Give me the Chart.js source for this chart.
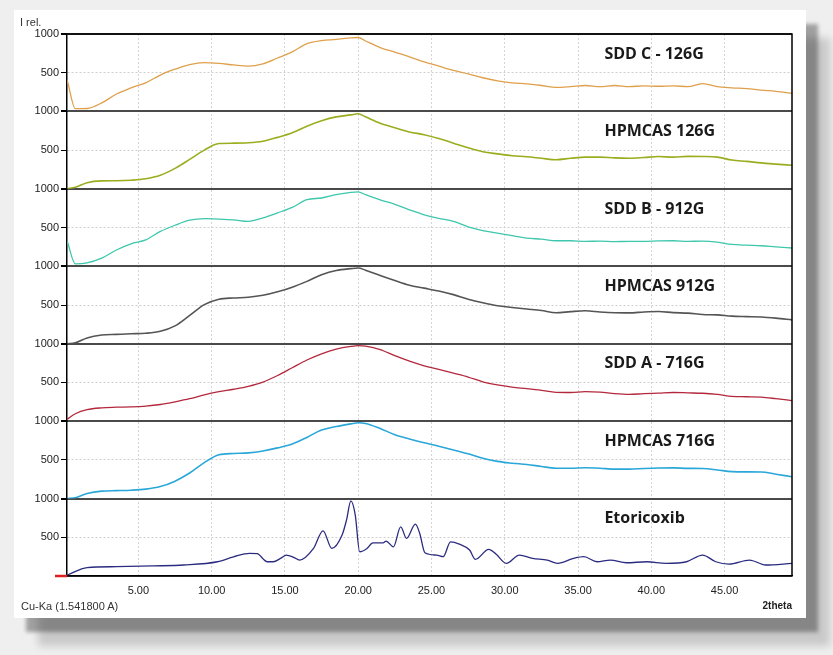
<!DOCTYPE html>
<html>
<head>
<meta charset="utf-8">
<script src="https://cdn.jsdelivr.net/npm/chart.js@4"></script>
<style>
  body { margin: 0; width: 833px; height: 655px; background: #efefef; overflow: hidden; font-family: 'Liberation Sans', Arial, sans-serif; }
  #card { position: absolute; left: 14px; top: 10px; width: 792px; height: 608px; background: #fff;
          box-shadow: 12px 14px 4px rgba(0,0,0,0.33), 24px 28px 8px rgba(0,0,0,0.16); }
  #card canvas { position: absolute; left: 0; top: 0; }
  .lbl { position: absolute; font-size: 11px; color: #333; white-space: nowrap; }
</style>
</head>
<body>
<div id="card">
  <canvas id="xrd" width="792" height="608"></canvas>
  <div class="lbl" style="left:6px; top:6px;">I rel.</div>
  <div class="lbl" style="left:7px; top:590px;">Cu-Ka (1.541800 A)</div>
</div>
<script>
// 2theta grid shared by the amorphous patterns
const angle = [0.15, 0.7, 1.5, 2.5, 3.5, 4.5, 5.5, 6.5, 7.5, 8.5, 9.5, 10.5, 11.5, 12.5, 13.5, 14.5, 15.5, 16.5, 17.5, 18.5,
  19.5, 20.0, 20.5, 21.5, 22.5, 23.5, 24.5, 25.5, 26.5, 27.5, 28.5, 29.5, 30.5, 31.5, 32.5, 33.5, 34.5, 35.5, 36.5, 37.5,
  38.5, 39.5, 40.5, 41.5, 42.5, 43.5, 44.5, 45.5, 46.5, 47.5, 48.5, 49.6];

const sddC126 = [400, 35, 38, 110, 225, 305, 370, 470, 545, 605, 630, 620, 600, 585, 615, 690, 770, 875, 915, 930,
  950, 955, 910, 825, 765, 705, 640, 585, 530, 485, 435, 395, 370, 355, 335, 310, 320, 335, 320, 335,
  320, 330, 325, 330, 320, 360, 320, 305, 295, 275, 260, 235];
const hpmcas126 = [0, 20, 80, 103, 105, 112, 130, 175, 265, 380, 500, 585, 590, 595, 615, 665, 725, 810, 880, 930,
  955, 970, 930, 848, 790, 735, 700, 650, 590, 530, 480, 452, 428, 415, 395, 376, 395, 410, 410, 400,
  396, 405, 417, 410, 420, 418, 410, 372, 355, 335, 320, 305];
const sddB912 = [320, 32, 45, 105, 210, 290, 340, 450, 530, 595, 615, 610, 600, 580, 625, 690, 760, 860, 882, 925,
  955, 962, 925, 858, 800, 730, 665, 620, 580, 510, 462, 428, 395, 365, 350, 330, 330, 322, 325, 318,
  322, 322, 328, 330, 322, 325, 312, 282, 272, 265, 250, 236];
const hpmcas912 = [0, 12, 75, 112, 120, 128, 135, 160, 230, 365, 505, 575, 591, 600, 625, 670, 730, 805, 890, 945,
  970, 978, 950, 880, 815, 755, 718, 680, 634, 575, 528, 490, 468, 448, 428, 400, 415, 425, 410, 400,
  398, 410, 416, 402, 395, 378, 372, 356, 350, 345, 330, 308];
const sddA716 = [25, 95, 148, 172, 180, 185, 195, 215, 250, 290, 340, 380, 412, 450, 505, 590, 690, 790, 870, 930,
  965, 975, 968, 925, 845, 775, 715, 668, 620, 570, 508, 468, 440, 420, 398, 372, 370, 380, 375, 355,
  345, 355, 362, 370, 365, 360, 345, 320, 315, 310, 290, 265];
const hpmcas716 = [0, 10, 65, 96, 102, 108, 122, 155, 225, 330, 465, 565, 582, 590, 615, 655, 705, 790, 885, 930,
  965, 980, 970, 905, 825, 770, 720, 675, 628, 578, 520, 480, 457, 440, 415, 392, 392, 398, 392, 380,
  380, 388, 394, 396, 390, 388, 370, 348, 345, 344, 315, 282];

// crystalline reference, own angle list (sharper peaks)
const etoAngle = [0.15, 1.5, 3.5, 6.0, 8.1, 10.4, 11.5, 12.6, 13.1, 13.8, 14.2, 14.7, 15.1, 15.6, 16.0, 16.95, 17.6, 18.2, 18.9, 19.2,
  19.5, 19.8, 20.1, 20.6, 21.0, 21.7, 21.9, 22.4, 22.9, 23.3, 23.9, 24.2, 24.55, 25.35, 25.8, 26.3, 26.9, 27.6, 28.0, 28.9,
  29.4, 30.1, 31.0, 31.9, 32.9, 33.6, 34.7, 35.4, 36.3, 37.2, 38.3, 39.7, 41.0, 42.4, 43.5, 44.4, 45.3, 46.7, 47.8, 49.6];
const etoricoxib = [13, 107, 120, 130, 142, 184, 248, 292, 288, 184, 184, 227, 270, 241, 206, 356, 583, 356, 528, 721,
  969, 786, 313, 356, 429, 429, 451, 377, 635, 485, 669, 549, 300, 270, 249, 442, 412, 335, 215, 343,
  283, 163, 270, 227, 206, 163, 227, 249, 184, 206, 171, 184, 163, 184, 270, 184, 154, 206, 142, 163];

const panelNames = ['SDD C - 126G', 'HPMCAS 126G', 'SDD B - 912G', 'HPMCAS 912G', 'SDD A - 716G', 'HPMCAS 716G', 'Etoricoxib'];
const panelSeries = [sddC126, hpmcas126, sddB912, hpmcas912, sddA716, hpmcas716, etoricoxib];
const panelColors = ['#dfa04c', '#9aad1e', '#3ec7ac', '#555555', '#b3283c', '#2aa7d9', '#2b2b80'];
const xTicks = [5, 10, 15, 20, 25, 30, 35, 40, 45];
const yTicks = [0, 500, 1000];

const datasets = panelSeries.map((vals, i) => {
  const xs = vals === etoricoxib ? etoAngle : angle;
  return {
    label: panelNames[i],
    data: vals.map((v, j) => ({x: xs[j], y: v})),
    yAxisID: 'y' + i,
    borderColor: panelColors[i],
    borderWidth: (i % 2 === 1 && i < 6) ? 1.6 : 1.3,
    pointRadius: 0,
    tension: 0.3,
    cubicInterpolationMode: 'monotone',
    fill: false
  };
});

const scales = {
  x: {
    type: 'linear', position: 'bottom', min: 0.13, max: 49.6,
    afterBuildTicks: s => { s.ticks = xTicks.map(v => ({value: v})); },
    afterFit: s => { s.height = 36; },
    ticks: { padding: 8, color: '#222', font: {family: 'Liberation Sans', size: 11}, callback: v => v.toFixed(2) },
    grid: { drawTicks: false, color: '#d4d4d4', lineWidth: 1 },
    border: { display: true, color: '#000', width: 1.5, dash: [2, 2] },
    title: { display: true, text: '2theta', align: 'end', padding: 0, color: '#222', font: {family: 'Liberation Sans', size: 10, weight: 'bold'} }
  }
};
panelNames.forEach((name, i) => {
  scales['y' + i] = {
    type: 'linear', position: 'left', stack: 'panels', stackWeight: 1, weight: 10 - i,
    min: 0, max: 1000,
    afterBuildTicks: s => { s.ticks = yTicks.map(v => ({value: v})); },
    afterFit: s => { s.width = 44; },
    ticks: { padding: 2, color: '#222', font: {family: 'Liberation Sans', size: 11}, callback: v => v === 0 ? '' : v },
    grid: {
      tickLength: 6, tickColor: '#000',
      color: c => c.tick && c.tick.value === 500 ? '#cfcfcf' : '#4a4a4a',
      lineWidth: c => c.tick && c.tick.value === 500 ? 1 : 2
    },
    border: { display: true, color: '#000', width: 1.5, dash: c => c.tick && c.tick.value === 500 ? [2, 2] : [] }
  };
});

// panel captions, chart frame and the red zero marker
const framePlugin = {
  id: 'frame',
  afterDatasetsDraw(chart) {
    const {ctx, chartArea: a} = chart;
    ctx.save();
    ctx.strokeStyle = '#000';
    ctx.lineWidth = 1.5;
    ctx.beginPath();
    ctx.moveTo(a.left, a.top); ctx.lineTo(a.right, a.top); ctx.lineTo(a.right, a.bottom);
    ctx.stroke();
    ctx.strokeStyle = '#e02020';
    ctx.lineWidth = 2.5;
    ctx.beginPath();
    ctx.moveTo(a.left - 12, a.bottom); ctx.lineTo(a.left, a.bottom);
    ctx.stroke();
    ctx.fillStyle = '#1a1a1a';
    ctx.font = 'bold 16px "Open Sans"';
    ctx.textBaseline = 'middle';
    const lx = chart.scales.x.getPixelForValue(36.8);
    panelNames.forEach((name, i) => {
      ctx.fillText(name, lx, chart.scales['y' + i].getPixelForValue(740));
    });
    ctx.restore();
  }
};

new Chart(document.getElementById('xrd'), {
  type: 'line',
  data: { datasets },
  options: {
    responsive: false,
    animation: false,
    layout: { padding: { left: 9, top: 24, right: 14, bottom: 6 } },
    plugins: { legend: { display: false }, tooltip: { enabled: false } },
    scales
  },
  plugins: [framePlugin]
});
</script>
</body>
</html>
